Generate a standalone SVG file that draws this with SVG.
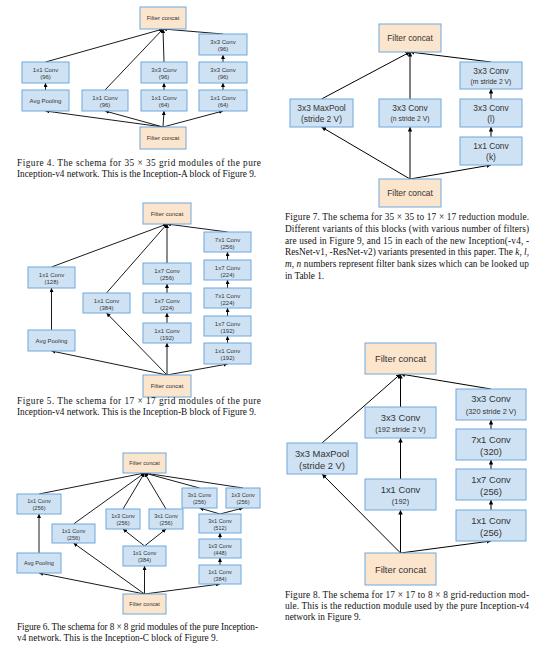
<svg xmlns="http://www.w3.org/2000/svg" width="550" height="655" viewBox="0 0 550 655">
<style>
.b{fill:#cfe2f3;stroke:#6fa8dc;stroke-width:1}
.o{fill:#fce5cd;stroke:#6fa8dc;stroke-width:1}
.t{font-family:"Liberation Sans",Arial,sans-serif;fill:#333;text-anchor:middle}
.s{font-size:6px}
.u{font-size:5.6px}
.m{font-size:8.4px}
.n{font-size:6.8px}
.l{font-size:9.4px}
.k{font-size:7.4px}
.cap{font-family:"Liberation Serif","Times New Roman",serif;font-size:9.3px;fill:#111}
.c line{stroke:#000;stroke-width:0.9;marker-end:url(#ah)}
.c2 line{stroke:#000;stroke-width:1;marker-end:url(#ah2)}
</style>
<defs>
<marker id="ah" markerUnits="userSpaceOnUse" markerWidth="4" markerHeight="4" refX="4" refY="2" orient="auto"><path d="M0,0 L4,2 L0,4 z" fill="#000"/></marker>
<marker id="ah2" markerUnits="userSpaceOnUse" markerWidth="4.5" markerHeight="4.5" refX="4.5" refY="2.25" orient="auto"><path d="M0,0 L4.5,2.25 L0,4.5 z" fill="#000"/></marker>
</defs>
<rect width="550" height="655" fill="#fff"/>

<!-- Figure 4 connectors -->
<g id="fig4-connectors" class="c">
<line x1="163" y1="127" x2="45.5" y2="111"/>
<line x1="163" y1="127" x2="105" y2="111"/>
<line x1="163" y1="127" x2="164" y2="111"/>
<line x1="163" y1="127" x2="223" y2="111"/>
<line x1="45.5" y1="90" x2="45.5" y2="83"/>
<line x1="164" y1="90" x2="164" y2="83"/>
<line x1="223" y1="90" x2="223" y2="83"/>
<line x1="223" y1="62" x2="223" y2="55"/>
<line x1="45.5" y1="62" x2="163" y2="29"/>
<line x1="105" y1="90" x2="163" y2="29"/>
<line x1="164" y1="62" x2="163" y2="29"/>
<line x1="223" y1="34" x2="163" y2="29"/>
</g>
<g id="fig4-top"><rect class="o" x="140" y="7" width="46" height="22"/><text class="t s" x="163" y="20">Filter concat</text></g>
<g id="fig4-3x3-top"><rect class="b" x="199" y="34" width="48" height="21"/><text class="t s" x="223" y="44">3x3 Conv</text><text class="t s" x="223" y="51.3">(96)</text></g>
<g id="fig4-1x1-left"><rect class="b" x="22" y="62" width="47" height="21"/><text class="t s" x="45.5" y="72">1x1 Conv</text><text class="t s" x="45.5" y="79.3">(96)</text></g>
<g id="fig4-3x3-mid"><rect class="b" x="141" y="62" width="46" height="21"/><text class="t s" x="164" y="72">3x3 Conv</text><text class="t s" x="164" y="79.3">(96)</text></g>
<g id="fig4-3x3-right"><rect class="b" x="199" y="62" width="48" height="21"/><text class="t s" x="223" y="72">3x3 Conv</text><text class="t s" x="223" y="79.3">(96)</text></g>
<g id="fig4-avg"><rect class="b" x="22" y="90" width="47" height="21"/><text class="t s" x="45.5" y="102.5">Avg Pooling</text></g>
<g id="fig4-1x1-96"><rect class="b" x="82" y="90" width="46" height="21"/><text class="t s" x="105" y="100">1x1 Conv</text><text class="t s" x="105" y="107.3">(96)</text></g>
<g id="fig4-1x1-64m"><rect class="b" x="141" y="90" width="46" height="21"/><text class="t s" x="164" y="100">1x1 Conv</text><text class="t s" x="164" y="107.3">(64)</text></g>
<g id="fig4-1x1-64r"><rect class="b" x="199" y="90" width="48" height="21"/><text class="t s" x="223" y="100">1x1 Conv</text><text class="t s" x="223" y="107.3">(64)</text></g>
<g id="fig4-bottom"><rect class="o" x="140" y="127" width="46" height="22"/><text class="t s" x="163" y="140">Filter concat</text></g>
<text class="cap" x="17" y="166" textLength="244" lengthAdjust="spacing">Figure 4. The schema for 35 × 35 grid modules of the pure</text>
<text class="cap" x="17" y="177">Inception-v4 network. This is the Inception-A block of Figure 9.</text>

<!-- Figure 5 connectors -->
<g id="fig5-connectors" class="c">
<line x1="167" y1="375" x2="51.5" y2="351"/>
<line x1="167" y1="375" x2="106.5" y2="313"/>
<line x1="167" y1="375" x2="167" y2="343"/>
<line x1="167" y1="375" x2="227.5" y2="364"/>
<line x1="51.5" y1="330" x2="51.5" y2="288"/>
<line x1="51.5" y1="267" x2="167" y2="224"/>
<line x1="106.5" y1="293" x2="167" y2="224"/>
<line x1="167" y1="263" x2="167" y2="224"/>
<line x1="227.5" y1="232" x2="167" y2="224"/>
<line x1="167" y1="323" x2="167" y2="313"/>
<line x1="167" y1="293" x2="167" y2="284"/>
<line x1="227.5" y1="343" x2="227.5" y2="336"/>
<line x1="227.5" y1="316" x2="227.5" y2="308"/>
<line x1="227.5" y1="288" x2="227.5" y2="280"/>
<line x1="227.5" y1="260" x2="227.5" y2="252"/>
</g>
<g id="fig5-top"><rect class="o" x="143" y="203" width="48" height="21"/><text class="t s" x="167" y="215.5">Filter concat</text></g>
<g id="fig5-7x1-256"><rect class="b" x="204" y="232" width="47" height="20"/><text class="t s" x="227.5" y="241.5">7x1 Conv</text><text class="t s" x="227.5" y="248.8">(256)</text></g>
<g id="fig5-1x1-128"><rect class="b" x="28" y="267" width="47" height="21"/><text class="t s" x="51.5" y="277">1x1 Conv</text><text class="t s" x="51.5" y="284.3">(128)</text></g>
<g id="fig5-1x7-256"><rect class="b" x="143" y="263" width="48" height="21"/><text class="t s" x="167" y="273">1x7 Conv</text><text class="t s" x="167" y="280.3">(256)</text></g>
<g id="fig5-1x7-224r"><rect class="b" x="204" y="260" width="47" height="20"/><text class="t s" x="227.5" y="269.5">1x7 Conv</text><text class="t s" x="227.5" y="276.8">(224)</text></g>
<g id="fig5-1x1-384"><rect class="b" x="83" y="293" width="47" height="20"/><text class="t s" x="106.5" y="302.5">1x1 Conv</text><text class="t s" x="106.5" y="309.8">(384)</text></g>
<g id="fig5-1x7-224m"><rect class="b" x="143" y="293" width="48" height="20"/><text class="t s" x="167" y="302.5">1x7 Conv</text><text class="t s" x="167" y="309.8">(224)</text></g>
<g id="fig5-7x1-224r"><rect class="b" x="204" y="288" width="47" height="20"/><text class="t s" x="227.5" y="297.5">7x1 Conv</text><text class="t s" x="227.5" y="304.8">(224)</text></g>
<g id="fig5-1x1-192m"><rect class="b" x="143" y="323" width="48" height="20"/><text class="t s" x="167" y="332.5">1x1 Conv</text><text class="t s" x="167" y="339.8">(192)</text></g>
<g id="fig5-1x7-192r"><rect class="b" x="204" y="316" width="47" height="20"/><text class="t s" x="227.5" y="325.5">1x7 Conv</text><text class="t s" x="227.5" y="332.8">(192)</text></g>
<g id="fig5-avg"><rect class="b" x="28" y="330" width="47" height="21"/><text class="t s" x="51.5" y="342.5">Avg Pooling</text></g>
<g id="fig5-1x1-192r"><rect class="b" x="204" y="343" width="47" height="21"/><text class="t s" x="227.5" y="353">1x1 Conv</text><text class="t s" x="227.5" y="360.3">(192)</text></g>
<g id="fig5-bottom"><rect class="o" x="143" y="375" width="48" height="22"/><text class="t s" x="167" y="388">Filter concat</text></g>
<text class="cap" x="17" y="404" textLength="244" lengthAdjust="spacing">Figure 5. The schema for 17 × 17 grid modules of the pure</text>
<text class="cap" x="17" y="414.5">Inception-v4 network. This is the Inception-B block of Figure 9.</text>

<!-- Figure 6 connectors -->
<g id="fig6-connectors" class="c">
<line x1="144.5" y1="594" x2="39" y2="573"/>
<line x1="144.5" y1="594" x2="73.5" y2="543"/>
<line x1="144.5" y1="594" x2="144.5" y2="566"/>
<line x1="144.5" y1="594" x2="220" y2="584"/>
<line x1="39" y1="553" x2="39" y2="514"/>
<line x1="144.5" y1="546" x2="123" y2="529"/>
<line x1="144.5" y1="546" x2="166" y2="529"/>
<line x1="220" y1="565" x2="220" y2="558"/>
<line x1="220" y1="539" x2="220" y2="533"/>
<line x1="220" y1="514" x2="199.5" y2="508"/>
<line x1="220" y1="514" x2="243" y2="508"/>
<line x1="39" y1="494" x2="144.5" y2="473"/>
<line x1="73.5" y1="524" x2="144.5" y2="473"/>
<line x1="123" y1="509" x2="144.5" y2="473"/>
<line x1="166" y1="509" x2="144.5" y2="473"/>
<line x1="199.5" y1="488" x2="144.5" y2="473"/>
<line x1="243" y1="488" x2="144.5" y2="473"/>
</g>
<g id="fig6-top"><rect class="o" x="123" y="453" width="43" height="20"/><text class="t u" x="144.5" y="465">Filter concat</text></g>
<g id="fig6-3x1-256r"><rect class="b" x="182" y="488" width="35" height="20"/><text class="t u" x="199.5" y="497">3x1 Conv</text><text class="t u" x="199.5" y="504.2">(256)</text></g>
<g id="fig6-1x3-256r"><rect class="b" x="226" y="488" width="34" height="20"/><text class="t u" x="243" y="497">1x3 Conv</text><text class="t u" x="243" y="504.2">(256)</text></g>
<g id="fig6-1x1-256a"><rect class="b" x="17" y="494" width="44" height="20"/><text class="t u" x="39" y="503">1x1 Conv</text><text class="t u" x="39" y="510.2">(256)</text></g>
<g id="fig6-1x3-256m"><rect class="b" x="106" y="509" width="34" height="20"/><text class="t u" x="123" y="518">1x3 Conv</text><text class="t u" x="123" y="525.2">(256)</text></g>
<g id="fig6-3x1-256m"><rect class="b" x="149" y="509" width="34" height="20"/><text class="t u" x="166" y="518">3x1 Conv</text><text class="t u" x="166" y="525.2">(256)</text></g>
<g id="fig6-3x1-512"><rect class="b" x="199" y="514" width="42" height="19"/><text class="t u" x="220" y="522.5">3x1 Conv</text><text class="t u" x="220" y="529.7">(512)</text></g>
<g id="fig6-1x1-256b"><rect class="b" x="52" y="524" width="43" height="19"/><text class="t u" x="73.5" y="532.5">1x1 Conv</text><text class="t u" x="73.5" y="539.7">(256)</text></g>
<g id="fig6-1x1-384m"><rect class="b" x="123" y="546" width="43" height="20"/><text class="t u" x="144.5" y="555">1x1 Conv</text><text class="t u" x="144.5" y="562.2">(384)</text></g>
<g id="fig6-1x3-448"><rect class="b" x="199" y="539" width="42" height="19"/><text class="t u" x="220" y="547.5">1x3 Conv</text><text class="t u" x="220" y="554.7">(448)</text></g>
<g id="fig6-avg"><rect class="b" x="17" y="553" width="44" height="20"/><text class="t u" x="39" y="565">Avg Pooling</text></g>
<g id="fig6-1x1-384r"><rect class="b" x="199" y="565" width="42" height="19"/><text class="t u" x="220" y="573.5">1x1 Conv</text><text class="t u" x="220" y="580.7">(384)</text></g>
<g id="fig6-bottom"><rect class="o" x="123" y="594" width="43" height="20"/><text class="t u" x="144.5" y="606">Filter concat</text></g>
<text class="cap" x="17" y="630" textLength="241" lengthAdjust="spacing">Figure 6. The schema for 8 × 8 grid modules of the pure Inception-</text>
<text class="cap" x="17" y="640.5">v4 network. This is the Inception-C block of Figure 9.</text>

<!-- Figure 7 connectors -->
<g id="fig7-connectors" class="c2">
<line x1="410" y1="179" x2="321.5" y2="127"/>
<line x1="410" y1="179" x2="410" y2="127"/>
<line x1="410" y1="179" x2="491" y2="165"/>
<line x1="321.5" y1="99" x2="410" y2="52"/>
<line x1="410" y1="99" x2="410" y2="52"/>
<line x1="491" y1="62" x2="410" y2="52"/>
<line x1="491" y1="137" x2="491" y2="127"/>
<line x1="491" y1="99" x2="491" y2="89"/>
</g>
<g id="fig7-top"><rect class="o" x="379" y="24" width="62" height="28"/><text class="t m" x="410" y="41">Filter concat</text></g>
<g id="fig7-3x3-m"><rect class="b" x="460" y="62" width="62" height="27"/><text class="t m" x="491" y="74">3x3 Conv</text><text class="t n" x="491" y="83.5">(m stride 2 V)</text></g>
<g id="fig7-maxpool"><rect class="b" x="290" y="99" width="63" height="28"/><text class="t m" x="321.5" y="111">3x3 MaxPool</text><text class="t m" x="321.5" y="122">(stride 2 V)</text></g>
<g id="fig7-3x3-n"><rect class="b" x="379" y="99" width="62" height="28"/><text class="t m" x="410" y="111">3x3 Conv</text><text class="t n" x="410" y="121">(n stride 2 V)</text></g>
<g id="fig7-3x3-l"><rect class="b" x="460" y="99" width="62" height="28"/><text class="t m" x="491" y="111">3x3 Conv</text><text class="t m" x="491" y="122">(l)</text></g>
<g id="fig7-1x1-k"><rect class="b" x="460" y="137" width="62" height="28"/><text class="t m" x="491" y="149">1x1 Conv</text><text class="t m" x="491" y="160">(k)</text></g>
<g id="fig7-bottom"><rect class="o" x="379" y="179" width="62" height="28"/><text class="t m" x="410" y="196">Filter concat</text></g>
<text class="cap" x="285" y="219.5" textLength="244" lengthAdjust="spacing">Figure 7. The schema for 35 × 35 to 17 × 17 reduction module.</text>
<text class="cap" x="285" y="231.5" textLength="244" lengthAdjust="spacing">Different variants of this blocks (with various number of filters)</text>
<text class="cap" x="285" y="243.5" textLength="244" lengthAdjust="spacing">are used in Figure 9, and 15 in each of the new Inception(-v4, -</text>
<text class="cap" x="285" y="255" textLength="244" lengthAdjust="spacing">ResNet-v1, -ResNet-v2) variants presented in this paper. The <tspan font-style="italic">k</tspan>, <tspan font-style="italic">l</tspan>,</text>
<text class="cap" x="285" y="267" textLength="244" lengthAdjust="spacing"><tspan font-style="italic">m</tspan>, <tspan font-style="italic">n</tspan> numbers represent filter bank sizes which can be looked up</text>
<text class="cap" x="285" y="278.5">in Table 1.</text>

<!-- Figure 8 connectors -->
<g id="fig8-connectors" class="c2">
<line x1="400.5" y1="553" x2="322" y2="474"/>
<line x1="400.5" y1="553" x2="400.5" y2="510"/>
<line x1="400.5" y1="553" x2="491" y2="541"/>
<line x1="322" y1="443" x2="400.5" y2="374"/>
<line x1="400.5" y1="407" x2="400.5" y2="374"/>
<line x1="491" y1="389" x2="400.5" y2="374"/>
<line x1="400.5" y1="479" x2="400.5" y2="438"/>
<line x1="491" y1="510" x2="491" y2="500"/>
<line x1="491" y1="469" x2="491" y2="460"/>
<line x1="491" y1="429" x2="491" y2="420"/>
</g>
<g id="fig8-top"><rect class="o" x="365" y="343" width="71" height="31"/><text class="t l" x="400.5" y="362">Filter concat</text></g>
<g id="fig8-3x3-320"><rect class="b" x="456" y="389" width="70" height="31"/><text class="t l" x="491" y="402">3x3 Conv</text><text class="t k" x="491" y="413.5">(320 stride 2 V)</text></g>
<g id="fig8-3x3-192"><rect class="b" x="365" y="407" width="71" height="31"/><text class="t l" x="400.5" y="420.5">3x3 Conv</text><text class="t k" x="400.5" y="431.5">(192 stride 2 V)</text></g>
<g id="fig8-7x1-320"><rect class="b" x="456" y="429" width="70" height="31"/><text class="t l" x="491" y="443">7x1 Conv</text><text class="t l" x="491" y="455">(320)</text></g>
<g id="fig8-maxpool"><rect class="b" x="287" y="443" width="70" height="31"/><text class="t l" x="322" y="457">3x3 MaxPool</text><text class="t l" x="322" y="469">(stride 2 V)</text></g>
<g id="fig8-1x7-256"><rect class="b" x="456" y="469" width="70" height="31"/><text class="t l" x="491" y="483">1x7 Conv</text><text class="t l" x="491" y="495">(256)</text></g>
<g id="fig8-1x1-192"><rect class="b" x="365" y="479" width="71" height="31"/><text class="t l" x="400.5" y="493">1x1 Conv</text><text class="t k" x="400.5" y="504">(192)</text></g>
<g id="fig8-1x1-256"><rect class="b" x="456" y="510" width="70" height="31"/><text class="t l" x="491" y="524">1x1 Conv</text><text class="t l" x="491" y="536">(256)</text></g>
<g id="fig8-bottom"><rect class="o" x="365" y="553" width="71" height="32"/><text class="t l" x="400.5" y="572.5">Filter concat</text></g>
<text class="cap" x="285" y="597.5" textLength="244" lengthAdjust="spacing">Figure 8. The schema for 17 × 17 to 8 × 8 grid-reduction mod-</text>
<text class="cap" x="285" y="608.5" textLength="244" lengthAdjust="spacing">ule. This is the reduction module used by the pure Inception-v4</text>
<text class="cap" x="285" y="619.5">network in Figure 9.</text>
</svg>
